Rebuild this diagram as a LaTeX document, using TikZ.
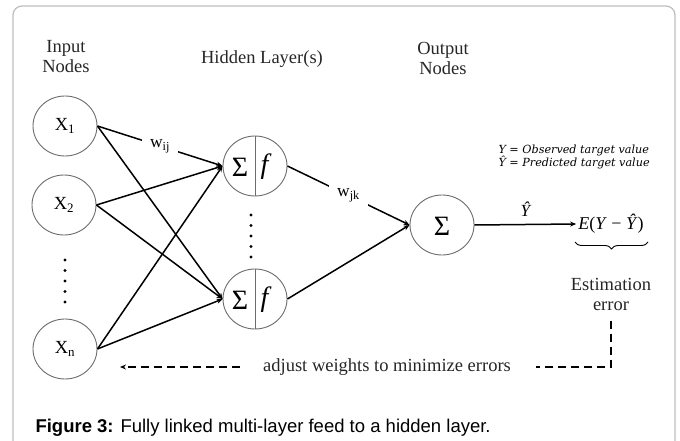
\documentclass[tikz,border=0pt]{standalone}
\usepackage{fontspec}
\setmainfont{Liberation Serif}
\newfontfamily\capfont{Liberation Sans}
\newfontfamily\notefont{DejaVu Serif}
\usetikzlibrary{arrows.meta}
\usetikzlibrary{shapes.geometric}
\usetikzlibrary{decorations.pathreplacing}

\tikzset{
  neuron/.style={draw=gray!85!black, line width=0.9pt, ellipse, minimum width=64pt,
    minimum height=60pt, inner sep=0pt, font=\fontsize{18.5}{20}\selectfont},
  sym/.style={inner sep=0pt, font=\fontsize{28}{29}\selectfont},
  link/.style={line width=1.5pt, -{Stealth[length=6pt,width=5pt]}},
  wlabel/.style={fill=white, inner sep=8pt, font=\fontsize{17.5}{19}\selectfont},
  heading/.style={align=center, text=black!85, font=\fontsize{18.5}{20}\selectfont},
  feedback/.style={line width=1.3pt, dash pattern=on 8pt off 5pt},
}

\begin{document}
\begin{tikzpicture}[x=1pt, y=-1pt]
\useasboundingbox (0,0) rectangle (680,441);

% cornice
\draw[gray!50, line width=1.3pt, rounded corners=9pt] (13,441) -- (13,6) -- (675,6) -- (675,441);

% titoli degli strati
\node[heading] (hin) at (66,57) {Input\\Nodes};
\node[heading] (hhid) at (262,59) {Hidden Layer(s)};
\node[heading] (hout) at (443,58) {Output\\Nodes};

% nodi di ingresso
\node[neuron] (x1) at (65,126) {X\textsubscript{1}};
\node[neuron] (x2) at (64,205) {X\textsubscript{2}};
\node[neuron] (xn) at (65,349) {X\textsubscript{n}};
\foreach \y in {260,270.5,...,304}
  \fill (65,\y) circle (1.6);

% strato nascosto
\node[neuron] (h1) at (255,166) {};
\node[neuron] (hn) at (255,299) {};
\draw[gray!85!black, line width=0.9pt] (h1.north) -- (h1.south);
\draw[gray!85!black, line width=0.9pt] (hn.north) -- (hn.south);
\node[sym] (s1) at (240,167) {Σ};
\node[sym] (f1) at (266,167) {\textit{f}};
\node[sym] (sn) at (240,300) {Σ};
\node[sym] (fn) at (266,300) {\textit{f}};
\foreach \y in {215,225.5,...,258}
  \fill (251,\y) circle (1.6);

% nodo di uscita
\node[neuron] (out) at (442,225) {};
\node[sym] (so) at (442,226) {Σ};

% pesi ingresso -> nascosto
\draw[link] (x1.east) -- node[wlabel] (wij) {w\textsubscript{ij}} (h1.west);
\draw[link] (x1.east) -- (hn.west);
\draw[link] (x2.east) -- (h1.west);
\draw[link] (x2.east) -- (hn.west);
\draw[link] (xn.east) -- (h1.west);
\draw[link] (xn.east) -- (hn.west);

% pesi nascosto -> uscita
\draw[link] (h1.east) -- node[wlabel] (wjk) {w\textsubscript{jk}} (out.west);
\draw[link] (hn.east) -- (out.west);

% errore di stima
\node[inner sep=2pt, font=\fontsize{18}{19}\selectfont] (est) at (611,224) {\textit{E}(\textit{Y} − \textit{Ŷ})};
\draw[link] (out.east) -- node[above=4pt, font=\fontsize{17}{19}\itshape] (yhat) {Ŷ} (est.west);
\draw[decorate, decoration={brace, mirror, amplitude=7pt}, line width=0.9pt] (575,242) -- (648,242);
\node[heading] (err) at (611,294) {Estimation\\error};

\node[anchor=west, align=left, font=\notefont\itshape\fontsize{11.2}{12.5}\selectfont] (note) at (495,157)
  {Y = Observed target value\\Ŷ = Predicted target value};

% retroazione
\node[heading] (adj) at (387,367) {adjust weights to minimize errors};
\coordinate (back) at (120,367);
\draw[feedback] ([yshift=-7pt]err.south) |- ([xshift=22pt]adj.east);
\draw[feedback, -{Stealth[length=6pt,width=5pt]}] ([xshift=-20pt]adj.west) -- (back);

% didascalia
\node[anchor=west, font=\capfont\fontsize{18.5}{20}\selectfont] (cap) at (32,428)
  {\textbf{Figure 3:} Fully linked multi-layer feed to a hidden layer.};
\end{tikzpicture}
\end{document}
